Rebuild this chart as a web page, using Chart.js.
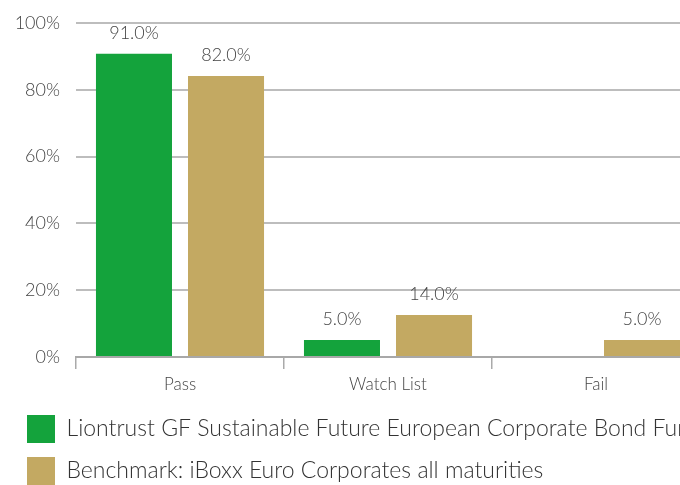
<!DOCTYPE html>
<html>
<head>
<meta charset="utf-8">
<script src="https://cdn.jsdelivr.net/npm/chart.js@4"></script>
<style>
    html, body { margin: 0; padding: 0; background: #fff; overflow: hidden; }
    #wrap { width: 700px; height: 485px; }
</style>
</head>
<body>
<div id="wrap"><canvas id="ratingChart" width="700" height="485"></canvas></div>
<script>
const categories = ["Pass", "Watch List", "Fail"];
const fundName = "Liontrust GF Sustainable Future European Corporate Bond Fund";
const benchName = "Benchmark: iBoxx Euro Corporates all maturities";
const fundValues = [90.8, 5.1, 0];
const benchValues = [84.1, 12.6, 5.1];
const fundLabels = ["91.0%", "5.0%", ""];
const benchLabels = ["82.0%", "14.0%", "5.0%"];
const yTicks = [0, 20, 40, 60, 80, 100];

const fontFamily = "Lato, 'Open Sans', sans-serif";
const textColor = "#444444";

// draws the value text above each bar
const barLabels = {
    id: "barLabels",
    afterDatasetsDraw(chart) {
        const ctx = chart.ctx;
        ctx.save();
        ctx.font = "300 18px " + fontFamily;
        ctx.fillStyle = textColor;
        ctx.textAlign = "center";
        ctx.textBaseline = "bottom";
        chart.data.datasets.forEach((ds, i) => {
            const meta = chart.getDatasetMeta(i);
            meta.data.forEach((bar, j) => {
                const txt = ds.valueLabels[j];
                if (!txt) return;
                ctx.fillText(txt, bar.x, bar.y - 12);
            });
        });
        ctx.restore();
    }
};

const ctx = document.getElementById("ratingChart").getContext("2d");
const chart = new Chart(ctx, {
    type: "bar",
    data: {
        labels: categories,
        datasets: [
            {
                label: fundName,
                data: fundValues,
                valueLabels: fundLabels,
                backgroundColor: "#14a33c"
            },
            {
                label: benchName,
                data: benchValues,
                valueLabels: benchLabels,
                backgroundColor: "#c3a962"
            }
        ]
    },
    options: {
        responsive: false,
        animation: false,
        categoryPercentage: 0.885,
        barPercentage: 0.826,
        layout: { padding: { left: 13, right: 0, top: 23, bottom: -10 } },
        plugins: {
            tooltip: { enabled: false },
            legend: {
                position: "bottom",
                align: "start",
                labels: {
                    boxWidth: 28,
                    boxHeight: 28,
                    padding: 14,
                    color: "#333333",
                    font: { family: fontFamily, size: 23, weight: "300" }
                }
            }
        },
        scales: {
            x: {
                grid: {
                    offset: true,
                    drawOnChartArea: false,
                    tickLength: 12,
                    color: "#aaaaaa",
                    lineWidth: 1.5
                },
                border: { display: true, color: "#a8a8a8", width: 2 },
                ticks: {
                    color: textColor,
                    padding: 5,
                    font: { family: fontFamily, size: 17, weight: "300" }
                },
                afterFit(scale) { scale.height = 44; }
            },
            y: {
                min: 0,
                max: 100,
                afterBuildTicks(scale) {
                    scale.ticks = yTicks.map(v => ({ value: v }));
                },
                grid: { drawTicks: false, color: "#bdbdbd", lineWidth: 2 },
                border: { display: false },
                ticks: {
                    color: textColor,
                    padding: 16,
                    font: { family: fontFamily, size: 18, weight: "300" },
                    callback: v => v + "%"
                },
                afterFit(scale) {
                    scale.width = 63;
                    scale.paddingTop = 0;
                    scale.paddingBottom = 0;
                }
            }
        }
    },
    plugins: [barLabels]
});
</script>
</body>
</html>
